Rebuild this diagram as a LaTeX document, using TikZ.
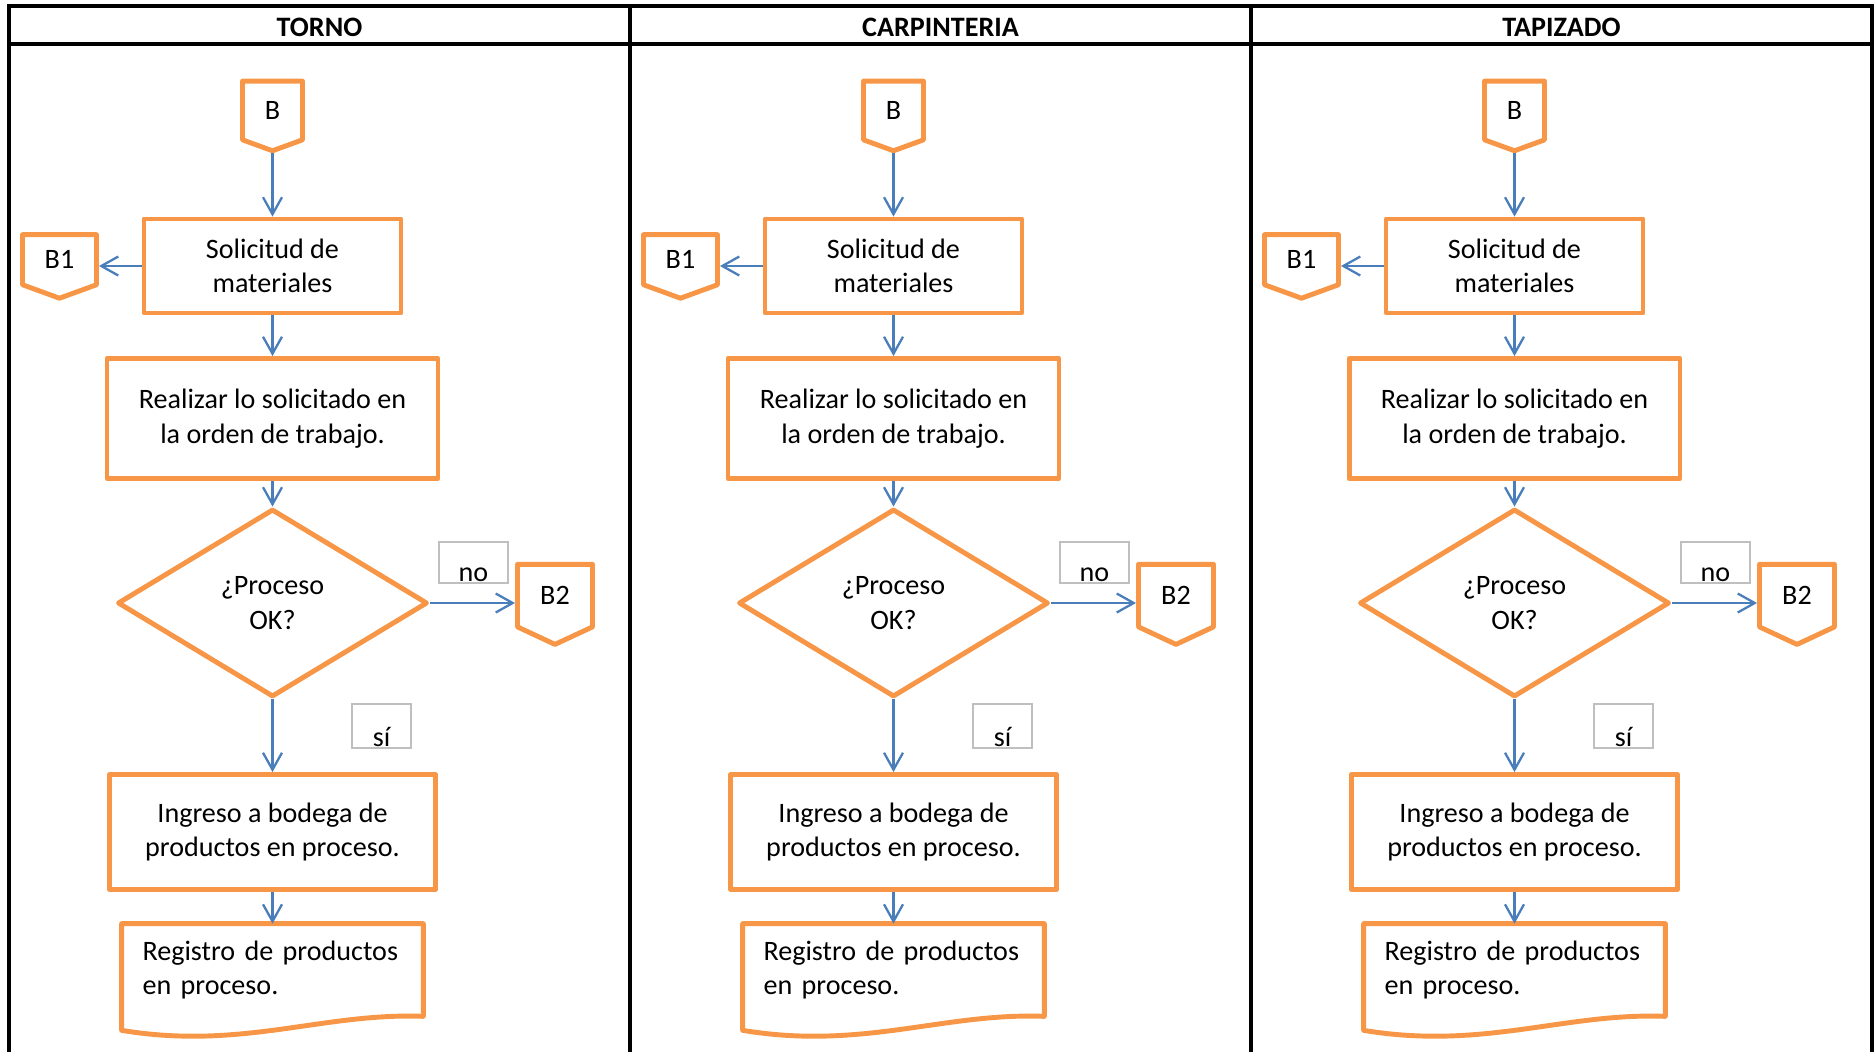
\documentclass[tikz,border=0pt]{standalone}
\usepackage{fontspec}
\setmainfont{Carlito}
\usetikzlibrary{arrows.meta,shapes.geometric,shapes.symbols}
\definecolor{floworange}{RGB}{247,150,70}
\definecolor{flowblue}{RGB}{74,126,187}
\definecolor{taggray}{RGB}{191,191,191}

\begin{document}
\begin{tikzpicture}[x=0.02cm, y=-0.02cm,
    font=\fontsize{16}{19.6}\selectfont,
    proc/.style={draw=floworange, line width=2.8pt, line join=round, align=center, inner sep=0pt},
    offpage/.style={signal, signal to=south, signal pointer angle=140, draw=floworange, line width=2.8pt, line join=round, inner sep=0pt},
    decis/.style={diamond, draw=floworange, line width=2.8pt, line join=round, align=center, inner sep=0pt, minimum width=6.2cm, minimum height=3.76cm},
    tag/.style={draw=taggray, line width=1pt, inner xsep=0pt, inner ysep=1pt, text depth=0pt},
    flow/.style={draw=flowblue, line width=1.3pt, -{Straight Barb[length=3.4mm, width=3.8mm]}},
    frame/.style={line width=1.8pt}
  ]
  \useasboundingbox (0,0) rectangle (1874,1052);

  % table frame
  \draw[frame] (9,1052) -- (9,6) -- (1872,6) -- (1872,1052);
  \draw[frame] (9,44) -- (1872,44);
  \draw[frame] (630,6) -- (630,1052);
  \draw[frame] (1251,6) -- (1251,1052);

  \foreach \i/\ox/\name in {1/0/TORNO, 2/621/CARPINTERIA, 3/1242/TAPIZADO} {
    \node[font=\fontsize{16}{18}\selectfont\bfseries] (head\i) at (\ox+319.5,27.5) {\name};

    \node[offpage, minimum width=1.2cm, minimum height=1.23cm] (b\i) at (\ox+272.5,110.5) {B};
    \node[proc, minimum width=5.14cm, minimum height=1.88cm] (sol\i) at (\ox+272.5,266) {Solicitud de\\materiales};
    \node[offpage, minimum width=1.48cm, minimum height=1.11cm] (bone\i) at (\ox+59.5,259.7) {B1};
    \node[proc, minimum width=6.62cm, minimum height=2.4cm] (real\i) at (\ox+272.5,418.5) {Realizar lo solicitado en\\la orden de trabajo.};
    \node[decis] (dec\i) at (\ox+272.5,603) {¿Proceso\\OK?};
    \node[offpage, signal pointer angle=130, minimum width=1.5cm, minimum height=1.39cm] (btwo\i) at (\ox+555,595.6) {B2};
    \node[tag, minimum width=1.38cm, text height=0.74cm] (no\i) at (\ox+473.5,562.5) {no};
    \node[tag, minimum width=1.18cm, text height=0.8cm] (si\i) at (\ox+381.5,726) {sí};
    \node[proc, minimum width=6.52cm, minimum height=2.3cm] (ing\i) at (\ox+272.5,832) {Ingreso a bodega de\\productos en proceso.};
    \node[align=left, text width=5.2cm, inner xsep=0.41cm, minimum height=1.84cm] (reg\i) at (\ox+272.5,970) {Registro de productos\\en proceso.};
    \draw[floworange, line width=2.8pt, line join=round] (reg\i.north west) -- (reg\i.north east) -- (reg\i.south east)
      .. controls +(-100,-4) and +(120,20) .. ([yshift=-0.28cm]reg\i.south west) -- cycle;

    \draw[flow] (b\i.south) -- (sol\i.north);
    \draw[flow] (sol\i.west) -- (sol\i.west -| bone\i.east);
    \draw[flow] (sol\i) -- (real\i);
    \draw[flow] (real\i) -- (dec\i);
    \draw[flow] (dec\i.east) -- (dec\i.east -| btwo\i.west);
    \draw[flow] (dec\i) -- (ing\i);
    \draw[flow] (ing\i) -- (reg\i);
  }
\end{tikzpicture}
\end{document}
